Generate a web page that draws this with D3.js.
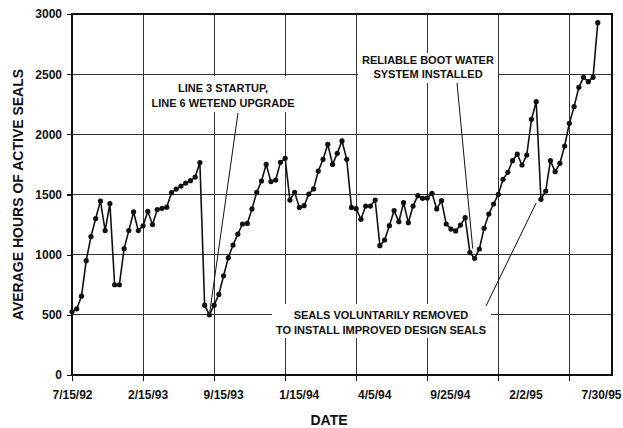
<!DOCTYPE html>
<meta charset="utf-8">
<style>
body { margin: 0; background: #fff; font-family: Arial, "Liberation Sans", sans-serif; }
.grid line { stroke: #333; stroke-width: 1; shape-rendering: crispEdges; }
.axis text { font-size: 12px; font-weight: bold; fill: #111; }
.axis line { stroke: #111; stroke-width: 1.2; shape-rendering: crispEdges; }
.axis path { display: none; }
path.line { fill: none; stroke: #111; stroke-width: 1.6; }
.note { font-size: 11px; font-weight: bold; fill: #111; text-anchor: middle; }
.title { font-size: 14px; font-weight: bold; fill: #111; text-anchor: middle; }
</style>
<body>
<script src="https://d3js.org/d3.v7.min.js"></script>
<script>
// tick labels on the date axis (every 15th reading)
var dateLabels = ["7/15/92", "2/15/93", "9/15/93", "1/15/94", "4/5/94", "9/25/94", "2/2/95", "7/30/95"];
var labelIndex = [0, 15, 30, 45, 60, 75, 90, 105];

// average hours of active seals, one value per reading
var hours = [
    525, 550, 655, 950, 1150, 1300, 1445, 1200, 1425, 750,
    750, 1050, 1200, 1355, 1200, 1240, 1360, 1250, 1375, 1385,
    1395, 1515, 1545, 1570, 1595, 1615, 1645, 1765, 580, 500,
    580, 670, 825, 975, 1080, 1170, 1255, 1260, 1380, 1518,
    1612, 1750, 1607, 1620, 1767, 1801, 1454, 1518, 1393, 1407,
    1504, 1546, 1695, 1792, 1917, 1750, 1842, 1945, 1792, 1393,
    1382, 1294, 1404, 1404, 1454, 1075, 1122, 1241, 1366, 1274,
    1432, 1266, 1404, 1490, 1468, 1470, 1510, 1380, 1449, 1255,
    1213, 1197, 1246, 1307, 1017, 970, 1047, 1219, 1338, 1421,
    1501, 1626, 1684, 1781, 1835, 1745, 1828, 2125, 2271, 1460,
    1529, 1781, 1690, 1759, 1903, 2092, 2230, 2391, 2474, 2438,
    2474, 2928
];

var yTicks = [0, 500, 1000, 1500, 2000, 2500, 3000];

var margin = {top: 14, right: 11, bottom: 53, left: 72},
    width = 623 - margin.left - margin.right,
    height = 428 - margin.top - margin.bottom;

var x = d3.scaleLinear().domain([0, 114]).range([0, width]);
var y = d3.scaleLinear().domain([0, 3000]).range([height, 0]);
// the printed date labels drift slightly right of their grid lines
var xLabel = d3.scaleLinear().domain([0, 105]).range([0, 529]);

var svg = d3.select("body").append("svg")
    .attr("width", 623)
    .attr("height", 428);

var g = svg.append("g")
    .attr("transform", "translate(" + margin.left + "," + margin.top + ")");

// grid
g.append("g").attr("class", "grid")
    .selectAll("line").data(yTicks).enter().append("line")
    .attr("x1", 0).attr("x2", width)
    .attr("y1", function(d) { return y(d); })
    .attr("y2", function(d) { return y(d); });

g.append("g").attr("class", "grid")
    .selectAll("line").data(labelIndex).enter().append("line")
    .attr("x1", function(d) { return x(d); })
    .attr("x2", function(d) { return x(d); })
    .attr("y1", 0).attr("y2", height);

// annotation boxes hide the grid under the text
var boxes = [
    [145, 76, 147, 36],
    [358, 53, 140, 30],
    [272, 304, 219, 34]
];
svg.selectAll("rect.box").data(boxes).enter().append("rect")
    .attr("class", "box")
    .attr("x", function(d) { return d[0]; })
    .attr("y", function(d) { return d[1]; })
    .attr("width", function(d) { return d[2]; })
    .attr("height", function(d) { return d[3]; })
    .attr("fill", "#fff");

// frame
g.append("rect")
    .attr("width", width).attr("height", height)
    .attr("fill", "none").attr("stroke", "#111").attr("stroke-width", 2);

// axes
var yAxis = d3.axisLeft(y).tickValues(yTicks).tickSize(5).tickPadding(5)
    .tickFormat(d3.format("d"));
g.append("g").attr("class", "axis").call(yAxis);

var xAxis = d3.axisBottom(x).tickValues(labelIndex).tickSize(6).tickPadding(9)
    .tickFormat(function(d, i) { return dateLabels[i]; });
var xg = g.append("g").attr("class", "axis")
    .attr("transform", "translate(0," + height + ")")
    .call(xAxis);
xg.selectAll(".tick text")
    .attr("x", function(d) { return xLabel(d) - x(d); });

// line + markers
var line = d3.line()
    .x(function(d, i) { return x(i); })
    .y(function(d) { return y(d); });

g.append("path").attr("class", "line").attr("d", line(hours));

g.selectAll("circle").data(hours).enter().append("circle")
    .attr("cx", function(d, i) { return x(i); })
    .attr("cy", function(d) { return y(d); })
    .attr("r", 2.6)
    .attr("fill", "#111");

// annotations
var notes = [
    ["LINE 3 STARTUP,", 223, 92],
    ["LINE 6 WETEND UPGRADE", 223, 107],
    ["RELIABLE BOOT WATER", 428, 64],
    ["SYSTEM INSTALLED", 428, 78],
    ["SEALS VOLUNTARILY REMOVED", 381, 319],
    ["TO INSTALL IMPROVED DESIGN SEALS", 381, 334]
];
svg.selectAll("text.note").data(notes).enter().append("text")
    .attr("class", "note")
    .attr("x", function(d) { return d[1]; })
    .attr("y", function(d) { return d[2]; })
    .text(function(d) { return d[0]; });

var pointers = [
    [238, 113, x(29) + margin.left, y(500) + margin.top],
    [457, 83, x(84.6) + margin.left, y(1050) + margin.top],
    [486, 306, x(98) + margin.left, y(1430) + margin.top]
];
svg.selectAll("line.pointer").data(pointers).enter().append("line")
    .attr("class", "pointer")
    .attr("x1", function(d) { return d[0]; })
    .attr("y1", function(d) { return d[1]; })
    .attr("x2", function(d) { return d[2]; })
    .attr("y2", function(d) { return d[3]; })
    .attr("stroke", "#111").attr("stroke-width", 1);

// axis titles
svg.append("text").attr("class", "title")
    .attr("x", 329).attr("y", 425)
    .text("DATE");

svg.append("text").attr("class", "title")
    .attr("transform", "translate(23," + (margin.top + height / 2) + ") rotate(-90)")
    .text("AVERAGE HOURS OF ACTIVE SEALS");
</script>
</body>
